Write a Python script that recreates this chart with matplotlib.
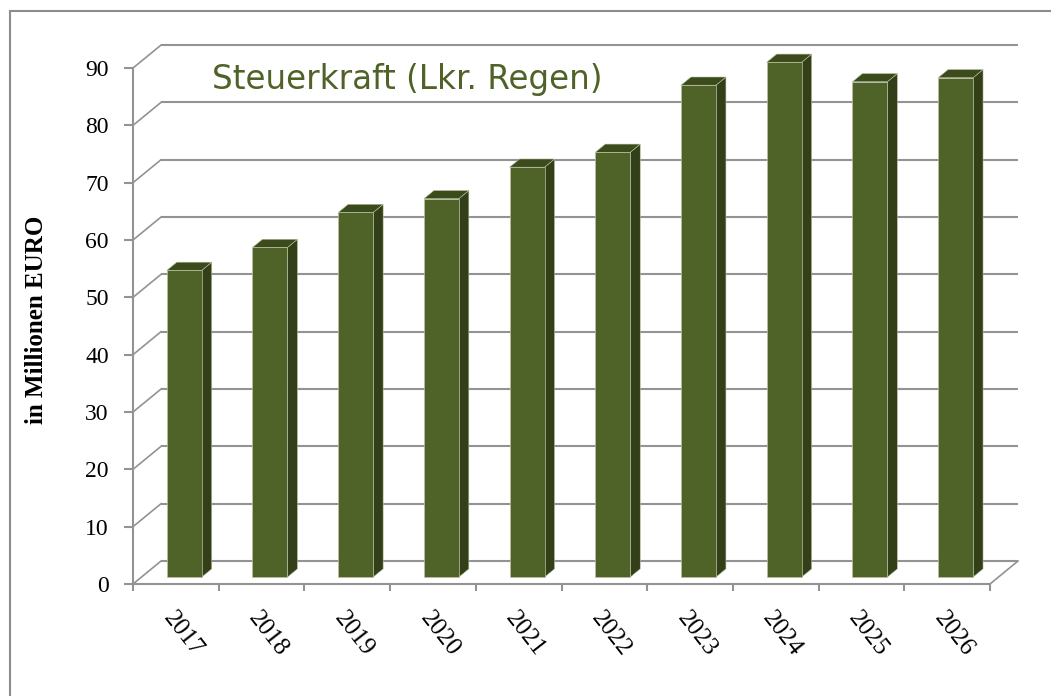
import matplotlib
matplotlib.use("Agg")
import matplotlib.pyplot as plt
from matplotlib.patches import Polygon, Rectangle

# data
years = ["2017", "2018", "2019", "2020", "2021", "2022", "2023", "2024", "2025", "2026"]
steuerkraft = [53.5, 57.5, 63.6, 66.0, 71.5, 74.1, 85.8, 89.8, 86.4, 87.1]
y_ticks = [0, 10, 20, 30, 40, 50, 60, 70, 80, 90]

title_txt = "Steuerkraft (Lkr. Regen)"
ylabel_txt = "in Millionen EURO"

# look of the fake 3d box
DX = 0.327      # depth offset in category units
DY = 4.01       # depth offset in value units
D0 = 0.30       # bar front depth fraction
D1 = 0.657      # bar back depth fraction
bar_w = 0.408

c_front = "#4f6228"
c_side = "#333f18"
c_top = "#3c4b1c"
c_grid = "#939393"
c_title = "#4f6228"
c_edge = "#b9c2a2"

W, H = 1051, 696
fig = plt.figure(figsize=(W / 100, H / 100), dpi=100)

# outer frame (only top and left edges visible in the picture)
fig.patches.append(Rectangle((10 / W, -0.5), 2.0, 0.5 + (1 - 11 / H), transform=fig.transFigure,
                             fill=False, edgecolor="#8c8c8c", linewidth=1.5))

ax = fig.add_axes([133 / W, (H - 584) / H, (1030 - 133) / W, (584 - 40) / H])
ax.set_xlim(0, (1030 - 133) / 85.7)
ax.set_ylim(0, (584 - 40) / 5.733)
ax.patch.set_alpha(0)

n = len(years)

# back wall grid + left wall diagonals
for v in y_ticks:
    ax.plot([DX, n + DX], [v + DY, v + DY], color=c_grid, lw=1.5, zorder=1, solid_capstyle="butt")
    ax.plot([0, DX], [v, v + DY], color=c_grid, lw=1.2, zorder=1)
# right floor edge
ax.plot([n, n + DX], [0, DY], color=c_grid, lw=1.2, zorder=1)

# bars
xs = [i + 0.5 + D0 * DX for i in range(n)]
ax.bar(xs, steuerkraft, width=bar_w, bottom=D0 * DY, color=c_front,
       edgecolor=c_edge, linewidth=0.5, zorder=3)
bdx = (D1 - D0) * DX
bdy = (D1 - D0) * DY
for x, v in zip(xs, steuerkraft):
    x0 = x - bar_w / 2
    x1 = x + bar_w / 2
    y0 = D0 * DY
    y1 = y0 + v
    side = Polygon([(x1, y0), (x1 + bdx, y0 + bdy), (x1 + bdx, y1 + bdy), (x1, y1)],
                   closed=True, facecolor=c_side, edgecolor=c_edge, linewidth=0.4, zorder=2.9)
    top = Polygon([(x0, y1), (x1, y1), (x1 + bdx, y1 + bdy), (x0 + bdx, y1 + bdy)],
                  closed=True, facecolor=c_top, edgecolor=c_edge, linewidth=0.4, zorder=2.9)
    ax.add_patch(side)
    ax.add_patch(top)

# spines / axes
for s in ["top", "right"]:
    ax.spines[s].set_visible(False)
ax.spines["left"].set_bounds(0, 90)
ax.spines["bottom"].set_bounds(0, n)
for s in ["left", "bottom"]:
    ax.spines[s].set_color(c_grid)
    ax.spines[s].set_linewidth(1.5)
    ax.spines[s].set_zorder(1)

ax.set_yticks(y_ticks)
ax.set_yticklabels([str(t) for t in y_ticks], family="Liberation Serif", fontsize=17)
ax.tick_params(axis="y", length=6.5, width=1.5, color=c_grid, pad=11)

ax.set_xticks(range(n + 1))
ax.set_xticklabels([])
ax.tick_params(axis="x", which="major", length=5, width=1.5, color=c_grid)
ax.set_xticks([i + 0.5 for i in range(n)], minor=True)
ax.set_xticklabels(years, minor=True, family="Liberation Serif", fontsize=18,
                   rotation=-52, ha="left", va="top", rotation_mode="anchor")
ax.tick_params(axis="x", which="minor", length=0, pad=17)

fig.text(37 / W, 1 - 320 / H, ylabel_txt, rotation=90, ha="center", va="center",
         family="Liberation Serif", fontweight="bold", fontsize=18)
fig.text(407 / W, 1 - 80 / H, title_txt, ha="center", va="center",
         family="DejaVu Sans", fontsize=23.5, color=c_title)

fig.savefig("out.png", dpi=100)
